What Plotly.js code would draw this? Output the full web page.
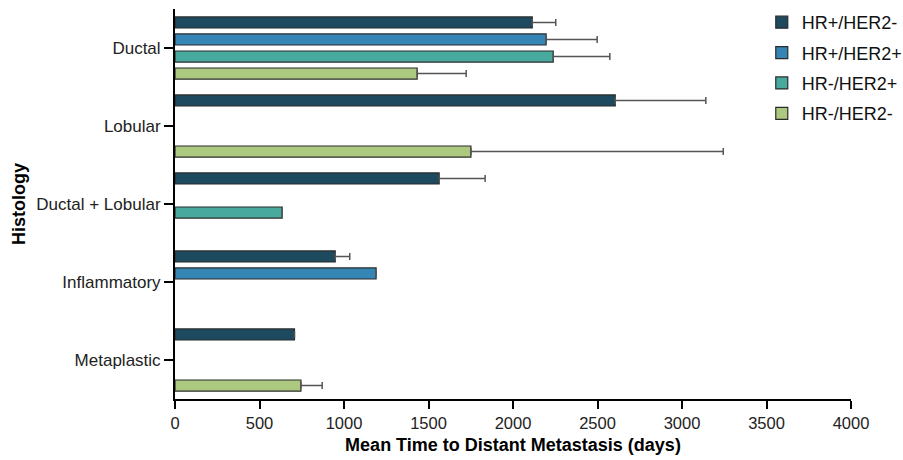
<!DOCTYPE html>
<html>
<head>
<meta charset="utf-8">
<script src="https://cdn.plot.ly/plotly-3.0.1.min.js"></script>
<style>html,body{margin:0;padding:0;background:#fff;}#chart{width:903px;height:460px;}</style>
</head>
<body>
<div id="chart"></div>
<script>
const categories = ["Ductal", "Lobular", "Ductal + Lobular", "Inflammatory", "Metaplastic"];
const seriesNames = ["HR+/HER2-", "HR+/HER2+", "HR-/HER2+", "HR-/HER2-"];
const hrPosHer2Neg = [2114, 2605, 1563, 948, 707];
const hrPosHer2NegErr = [139, 536, 272, 86, 0];
const hrPosHer2Pos = [2196, null, null, 1190, null];
const hrPosHer2PosErr = [302, null, null, 0, null];
const hrNegHer2Pos = [2238, null, 634, null, null];
const hrNegHer2PosErr = [335, null, 0, null, null];
const hrNegHer2Neg = [1433, 1751, null, null, 745];
const hrNegHer2NegErr = [290, 1493, null, null, 126];
const xTickVals = [0, 500, 1000, 1500, 2000, 2500, 3000, 3500, 4000];

const colors = ["#1e4a60", "#3585b5", "#48aa9e", "#adc97f"];
const values = [hrPosHer2Neg, hrPosHer2Pos, hrNegHer2Pos, hrNegHer2Neg];
const errs = [hrPosHer2NegErr, hrPosHer2PosErr, hrNegHer2PosErr, hrNegHer2NegErr];

const traces = values.map((v, i) => ({
  type: "bar",
  orientation: "h",
  name: seriesNames[i],
  legendgroup: "g" + i,
  y: categories,
  x: v,
  marker: { color: colors[i], line: { color: "#2b2b2b", width: 1.2 } },
  error_x: {
    type: "data",
    array: errs[i],
    symmetric: false,
    arrayminus: errs[i].map(e => e === null ? null : 0),
    color: "#555555",
    thickness: 1.5,
    width: 3.5
  }
}));

const layout = {
  width: 903,
  height: 460,
  margin: { l: 175, r: 52, t: 9, b: 61, autoexpand: false },
  paper_bgcolor: "#ffffff",
  plot_bgcolor: "#ffffff",
  font: { family: "Liberation Sans, Arial, sans-serif", color: "#000" },
  barmode: "group",
  bargap: 0.128,
  bargroupgap: 0.35,
  showlegend: true,
  legend: {
    x: 0.868, xanchor: "left", y: 1.013, yanchor: "top",
    traceorder: "grouped", tracegroupgap: 4,
    font: { size: 18, color: "#111" },
    bgcolor: "rgba(0,0,0,0)"
  },
  xaxis: {
    range: [0, 4000],
    tickvals: xTickVals,
    ticktext: xTickVals.map(String),
    ticks: "outside", ticklen: 8, tickwidth: 2, tickcolor: "#000",
    showline: true, linecolor: "#000", linewidth: 2,
    showgrid: false, zeroline: false,
    tickfont: { size: 16.5, color: "#222" },
    title: { text: "<b>Mean Time to Distant Metastasis (days)</b>", font: { size: 18, color: "#000" }, standoff: 8 }
  },
  yaxis: {
    type: "category",
    categoryorder: "array",
    categoryarray: categories,
    autorange: "reversed",
    ticks: "outside", ticklen: 9, tickwidth: 2, tickcolor: "#000",
    showline: true, linecolor: "#000", linewidth: 2,
    showgrid: false, zeroline: false,
    tickfont: { size: 17, color: "#222" },
    title: { text: "<b>Histology</b>", font: { size: 18, color: "#000" }, standoff: 6 }
  }
};

Plotly.newPlot("chart", traces, layout, { displayModeBar: false, staticPlot: true });
</script>
</body>
</html>
